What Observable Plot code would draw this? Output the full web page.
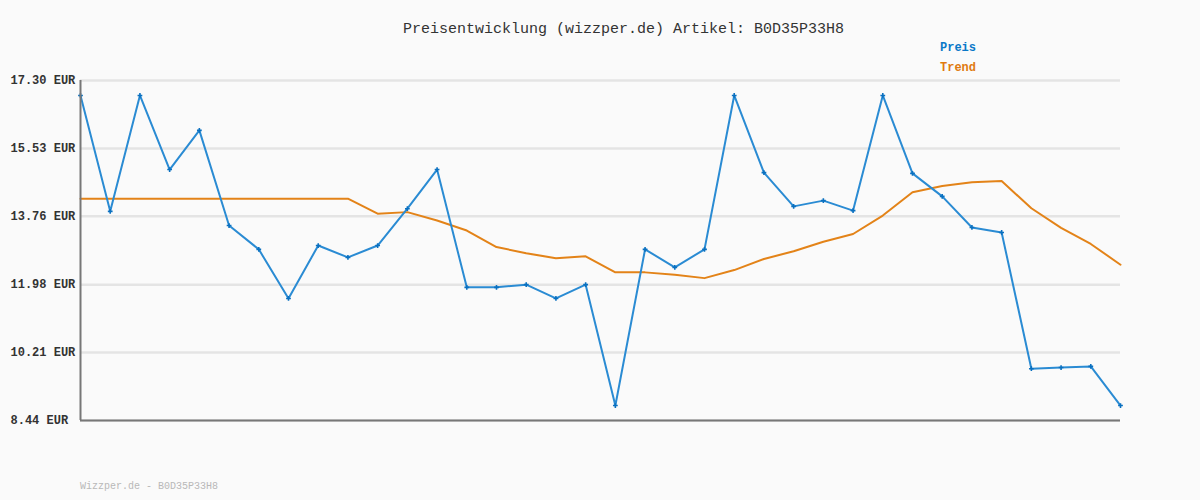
<!DOCTYPE html>
<html>
<head>
<meta charset="utf-8">
<script src="https://cdn.jsdelivr.net/npm/d3@7"></script>
<script src="https://cdn.jsdelivr.net/npm/@observablehq/plot@0.6"></script>
<style>
  html, body { margin: 0; padding: 0; background: #fafafa; }
  #wrap { position: relative; width: 1200px; height: 500px; background: #fafafa; overflow: hidden; }
  #wrap svg { position: absolute; left: 0; top: 0; }
  .t { position: absolute; font-family: "Liberation Mono", "DejaVu Sans Mono", monospace; white-space: pre; }
</style>
</head>
<body>
<div id="wrap">
  <div class="t" id="title" style="left:403px; top:21px; font-size:15px; color:#333;"></div>
  <div class="t" id="lg1" style="left:940px; top:41px; font-size:12px; font-weight:bold; color:#0a78c8;"></div>
  <div class="t" id="lg2" style="left:940px; top:61px; font-size:12px; font-weight:bold; color:#e07a10;"></div>
  <div class="t" id="foot" style="left:80px; top:481px; font-size:10px; color:#b8b8b8;"></div>
</div>
<script>
const titleText = "Preisentwicklung (wizzper.de) Artikel: B0D35P33H8";
const legendLabels = ["Preis", "Trend"];
const footerText = "Wizzper.de - B0D35P33H8";
const yTicks = [8.44, 10.21, 11.98, 13.76, 15.53, 17.30];

const preis = [16.91, 13.89, 16.91, 14.98, 16.00, 13.52, 12.90, 11.62, 13.00, 12.69,
               13.00, 13.96, 14.98, 11.91, 11.91, 11.98, 11.62, 11.98, 8.83, 12.90,
               12.43, 12.90, 16.91, 14.90, 14.02, 14.17, 13.91, 16.91, 14.88, 14.28,
               13.47, 13.34, 9.79, 9.82, 9.85, 8.83];
const trend = [14.22, 14.22, 14.22, 14.22, 14.22, 14.22, 14.22, 14.22, 14.22, 14.22,
               13.83, 13.87, 13.65, 13.39, 12.96, 12.80, 12.67, 12.72, 12.30, 12.30,
               12.24, 12.15, 12.36, 12.65, 12.85, 13.10, 13.30, 13.78, 14.39, 14.55,
               14.65, 14.68, 13.97, 13.46, 13.04, 12.50];

const dataP = preis.map((v, i) => ({i, v}));
const dataT = trend.map((v, i) => ({i, v}));

document.getElementById("title").textContent = titleText;
document.getElementById("lg1").textContent = legendLabels[0];
document.getElementById("lg2").textContent = legendLabels[1];
document.getElementById("foot").textContent = footerText;

const chart = Plot.plot({
  width: 1200,
  height: 500,
  marginTop: 80,
  marginBottom: 80,
  marginLeft: 80,
  marginRight: 80,
  style: {background: "transparent"},
  x: {domain: [0, preis.length - 1], axis: null},
  y: {domain: [8.44, 17.30], axis: null},
  marks: [
    Plot.gridY(yTicks, {stroke: "#e4e4e4", strokeOpacity: 1, strokeWidth: 2.5}),
    Plot.text(yTicks, {
      y: d => d, frameAnchor: "left", dx: -70, textAnchor: "start",
      text: d => d.toFixed(2) + " EUR",
      fontFamily: "Liberation Mono, DejaVu Sans Mono, monospace",
      fontSize: 12, fontWeight: "bold", fill: "#333"
    }),
    Plot.line(dataT, {x: "i", y: "v", stroke: "#e38318", strokeWidth: 2}),
    Plot.line(dataP, {x: "i", y: "v", stroke: "#2a8bd3", strokeWidth: 2}),
    Plot.dot(dataP, {x: "i", y: "v", symbol: "cross", r: 2, fill: "#0a70c0", stroke: "none"}),
    Plot.ruleX([0], {stroke: "#777", strokeWidth: 2}),
    Plot.ruleY([8.44], {stroke: "#777", strokeWidth: 2})
  ]
});
document.getElementById("wrap").appendChild(chart);
</script>
</body>
</html>
